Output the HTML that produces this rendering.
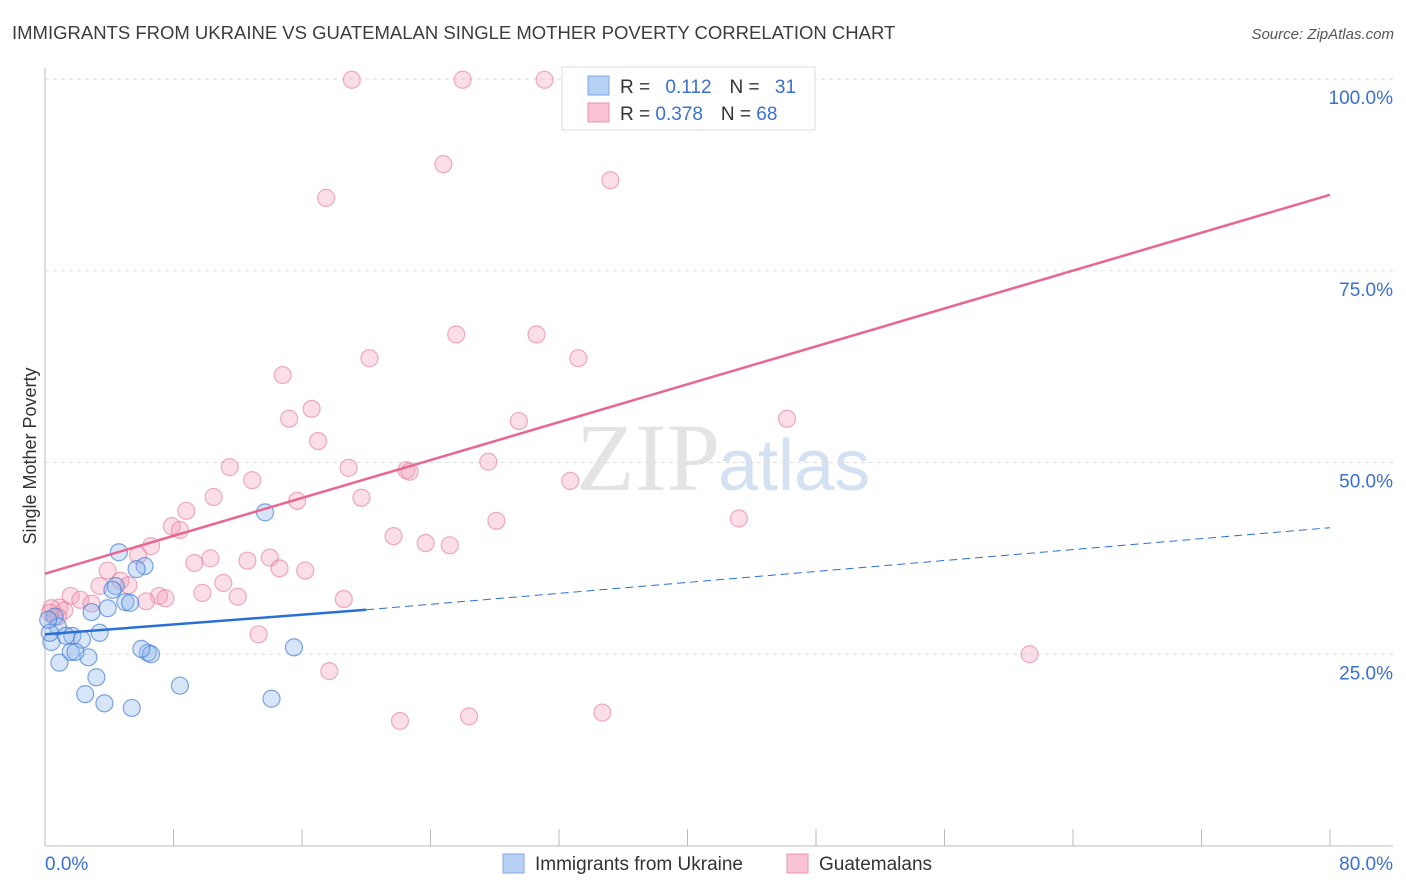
<!DOCTYPE html>
<html><head><meta charset="utf-8"><style>
body{margin:0;background:#fff;font-family:"Liberation Sans",sans-serif;}
#wrap{position:relative;width:1406px;height:892px;overflow:hidden}
</style></head><body><div id="wrap">
<svg id="svg" width="1406" height="892" xmlns="http://www.w3.org/2000/svg" font-family="Liberation Sans, sans-serif">
<text x="12" y="39" font-size="18.5" fill="#3c3c3c">IMMIGRANTS FROM UKRAINE VS GUATEMALAN SINGLE MOTHER POVERTY CORRELATION CHART</text>
<text x="1394" y="39" font-size="15" fill="#555" font-style="italic" text-anchor="end">Source: ZipAtlas.com</text>
<text x="36" y="456" font-size="18" fill="#333" text-anchor="middle" transform="rotate(-90 36 456)">Single Mother Poverty</text>
<text x="720" y="490" font-size="96" fill="#e4e4e4" text-anchor="end" font-family="Liberation Serif, serif">ZIP</text>
<text x="718" y="490" font-size="72" fill="#d3e1f3">atlas</text>
<g id="grid"></g><g id="pts"></g><g id="lines"></g>
<g>
<rect x="562" y="67" width="253" height="63" fill="#fff" stroke="#ddd"/>
<rect x="588" y="76" width="21" height="19" fill="#b7d1f5" stroke="#7fa9e6"/>
<rect x="588" y="103" width="21" height="19" fill="#f9c3d3" stroke="#ee93ae"/>
<text x="620" y="93" font-size="19" fill="#333">R = <tspan fill="#3a70d0" dx="10">0.112</tspan><tspan dx="18" fill="#333">N = </tspan><tspan dx="10" fill="#3a70d0">31</tspan></text>
<text x="620" y="120" font-size="19" fill="#333">R = <tspan fill="#3a70d0">0.378</tspan><tspan dx="18" fill="#333">N = </tspan><tspan fill="#3a70d0">68</tspan></text>
</g>
<g>
<rect x="503" y="854" width="21" height="19" fill="#b7d1f5" stroke="#7fa9e6"/>
<text x="535" y="870" font-size="19" fill="#333">Immigrants from Ukraine</text>
<rect x="787" y="854" width="21" height="19" fill="#f9c3d3" stroke="#ee93ae"/>
<text x="819" y="870" font-size="19" fill="#333">Guatemalans</text>
</g>
<text x="45" y="870" font-size="19" fill="#3a70d0">0.0%</text>
<text x="1393" y="870" font-size="19" fill="#3a70d0" text-anchor="end">80.0%</text>
</svg></div>
<script>
const yTicks=[25,50,75,100];
const blueX=[4.6,6.2,5.7,13.7,4.4,4.2,5.0,5.3,0.6,2.9,3.9,0.4,0.8,1.7,1.3,3.4,2.3,1.6,2.7,1.9,6.4,6.6,6.0,15.5,0.9,3.2,2.5,8.4,3.7,5.4,14.1,0.3,0.2];
const blueY=[38.3,36.5,36.1,43.5,33.9,33.4,31.8,31.7,29.9,30.5,31.0,26.6,28.6,27.4,27.4,27.8,26.9,25.3,24.6,25.3,25.2,25.0,25.7,25.9,23.9,22.0,19.8,20.9,18.6,18.0,19.2,27.8,29.5];
const pinkX=[19.1,26.0,31.1,38.2,24.8,35.2,17.5,25.6,30.6,20.2,33.2,14.8,15.2,16.6,46.2,17.0,29.5,11.5,12.9,18.9,27.6,22.5,22.7,32.7,10.5,8.8,15.7,19.7,7.9,8.4,28.1,43.2,6.6,21.7,23.7,25.2,10.3,12.6,14.0,9.3,5.8,3.9,14.6,16.2,4.7,11.1,3.4,5.2,9.8,7.1,7.5,12.0,18.6,6.3,1.6,2.2,2.9,0.9,0.4,1.2,0.8,13.3,17.7,22.1,26.4,34.7,61.3,0.3];
const pinkY=[99.9,99.9,99.9,99.9,88.9,86.8,84.5,66.7,66.7,63.6,63.6,61.4,55.7,57.0,55.7,52.8,55.4,49.4,47.7,49.3,50.1,49.0,48.8,47.6,45.5,43.7,45.0,45.4,41.7,41.2,42.4,42.7,39.1,40.4,39.5,39.2,37.5,37.2,37.6,36.9,37.9,35.9,36.2,35.9,34.6,34.3,33.9,34.0,33.0,32.6,32.3,32.5,32.2,31.9,32.6,32.1,31.6,31.1,31.0,30.7,29.9,27.6,22.8,16.3,16.9,17.4,25.0,30.4];
const pinkLine=[0,35.5,80,84.9];
const blueLine=[0,27.6,20,30.8,80,41.5];
const X=v=>45+v/80*1285, Y=v=>846-v*7.67;
const NS='http://www.w3.org/2000/svg';
function mk(t,a,p){const e=document.createElementNS(NS,t);for(const k in a)e.setAttribute(k,a[k]);p.appendChild(e);return e;}
const grid=document.getElementById('grid'),pts=document.getElementById('pts'),lines=document.getElementById('lines');
const ax=mk('line',{x1:45,y1:68,x2:45,y2:846,stroke:'#bbb'},grid);


const bx=mk('line',{x1:45,y1:846,x2:1393,y2:846,stroke:'#bbb'},grid);


for(let i=0;i<=10;i++){const t=mk('line',{x1:45+i*128.5,y1:829,x2:45+i*128.5,y2:846,stroke:'#bbb'},grid);

}
yTicks.forEach(v=>{const g=mk('line',{x1:45,y1:Y(v),x2:1393,y2:Y(v),stroke:'#ddd','stroke-dasharray':'4 4'},grid);


const t=mk('text',{x:1393,y:Y(v)+25,'font-size':19,fill:'#3a70d0','text-anchor':'end'},grid);t.textContent=v.toFixed(1)+'%';

});
pinkX.forEach((x,i)=>{const c=mk('circle',{cx:X(x),cy:Y(pinkY[i]),r:8.5,fill:'rgba(244,160,185,0.35)',stroke:'rgba(230,120,155,0.6)','stroke-width':1.2},pts);

});
blueX.forEach((x,i)=>{const c=mk('circle',{cx:X(x),cy:Y(blueY[i]),r:8.5,fill:'rgba(140,180,235,0.35)',stroke:'rgba(60,120,215,0.65)','stroke-width':1.2},pts);

});
const pl=mk('line',{x1:X(pinkLine[0]),y1:Y(pinkLine[1]),x2:X(pinkLine[2]),y2:Y(pinkLine[3]),stroke:'#e8668f','stroke-width':2.5},lines);


const bl=mk('line',{x1:X(blueLine[0]),y1:Y(blueLine[1]),x2:X(blueLine[2]),y2:Y(blueLine[3]),stroke:'#2a6fd6','stroke-width':2.5},lines);


const bd=mk('line',{x1:X(blueLine[2]),y1:Y(blueLine[3]),x2:X(blueLine[4]),y2:Y(blueLine[5]),stroke:'#2a6fd6','stroke-width':1,'stroke-dasharray':'8 5'},lines);


</script></body></html>
